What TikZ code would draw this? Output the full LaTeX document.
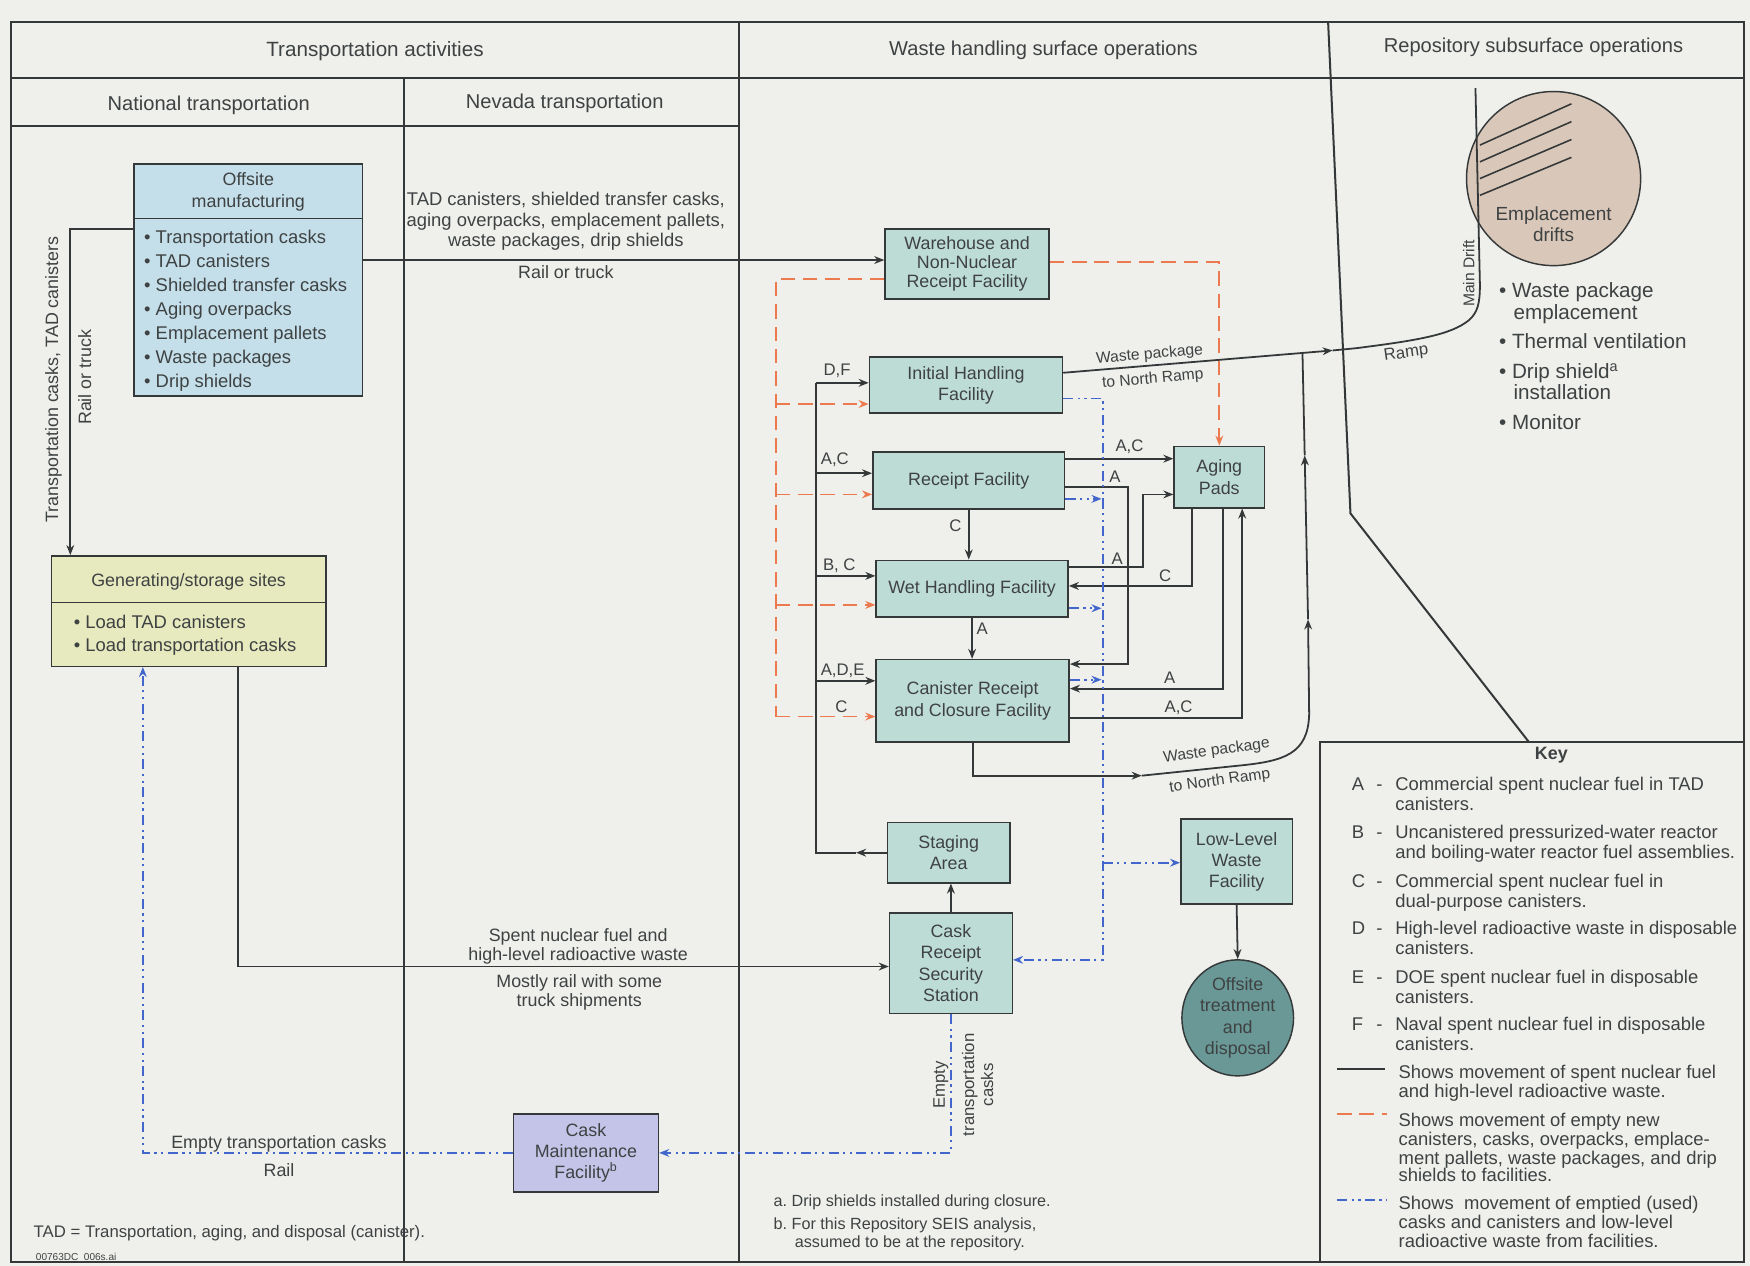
\documentclass[tikz,border=0pt]{standalone}
\usepackage{fontspec}
\setmainfont{Liberation Sans}
\usetikzlibrary{arrows.meta,shapes.geometric}
\definecolor{lnc}{RGB}{52,56,56}
\definecolor{txc}{RGB}{62,66,66}
\definecolor{bgc}{RGB}{239,240,236}
\definecolor{facc}{RGB}{190,220,214}
\definecolor{offc}{RGB}{196,223,234}
\definecolor{genc}{RGB}{231,233,190}
\definecolor{cmfc}{RGB}{196,196,232}
\definecolor{otdc}{RGB}{106,152,150}
\definecolor{empc}{RGB}{217,199,185}
\definecolor{orc}{RGB}{236,122,78}
\definecolor{blc}{RGB}{66,102,204}
\newcommand\fsz[2]{\fontsize{#1}{#2}\selectfont}
\begin{document}
\begin{tikzpicture}[x=1pt,y=-1pt,
  atip/.style={-{Stealth[length=9pt,width=7pt]}},
  lnst/.style={draw=lnc,line width=1.6pt},
  arr/.style={lnst,atip},
  orng/.style={draw=orc,line width=1.6pt,dash pattern=on 13pt off 7pt},
  oarr/.style={orng,atip},
  blu/.style={draw=blc,line width=1.5pt,dash pattern=on 9pt off 4pt on 2pt off 4pt on 2pt off 4pt},
  barr/.style={blu,atip},
  fac/.style={draw=lnc,line width=1.3pt,fill=facc,align=center,text=txc,font=\fsz{16}{19},inner sep=0pt},
  lbl/.style={text=txc,font=\fsz{15}{17},inner sep=0pt},
  txt/.style={text=txc,font=\fsz{16}{18.5},inner sep=0pt},
  frm/.style={draw=lnc,line width=1.8pt},
]
\fill[bgc] (0,0) rectangle (1568,1134);
\useasboundingbox (0,0) rectangle (1568,1134);

% frame
\draw[frm] (10,20) rectangle (1563,1131);
\draw[frm] (10,70) -- (1563,70);
\draw[frm] (10,113) -- (662,113);
\draw[frm] (362,70) -- (362,1131);
\draw[frm] (662,20) -- (662,1131);
\draw[frm] (1190,20) -- (1210,460) -- (1370,665);
\draw[frm] (1183,1131) -- (1183,665) -- (1563,665);

% headers
\node[txt,font=\fsz{18.5}{20}] (h1) at (336,46) {Transportation activities};
\node[txt,font=\fsz{18}{20}] (h2) at (935,45) {Waste handling surface operations};
\node[txt,font=\fsz{18}{20}] (h3) at (1374,42) {Repository subsurface operations};
\node[txt,font=\fsz{18}{20}] (h4) at (187,94) {National transportation};
\node[txt,font=\fsz{18}{20}] (h5) at (506,93) {Nevada transportation};

% offsite manufacturing
\node[draw=lnc,line width=1.3pt,fill=offc,minimum width=205,minimum height=208,inner sep=0pt] (off) at (222.5,251) {};
\draw[lnc,line width=1.3pt] (off.west |- 0,196) -- (off.east |- 0,196);
\node[txt,align=center,font=\fsz{16}{20}] (offt) at (222.5,172) {Offsite\\manufacturing};
\foreach \t [count=\i] in {Transportation casks,TAD canisters,Shielded transfer casks,Aging overpacks,Emplacement pallets,Waste packages,Drip shields}
  \node[txt,anchor=base west,font=\fsz{16.5}{18}] (oi\i) at (129,{218.5+(\i-1)*21.5}) {• \t};

% generating sites
\node[draw=lnc,line width=1.3pt,fill=genc,minimum width=246,minimum height=99,inner sep=0pt] (gen) at (169,547.5) {};
\draw[lnc,line width=1.3pt] (gen.west |- 0,540) -- (gen.east |- 0,540);
\node[txt] (gent) at (169,521) {Generating/storage sites};
\node[txt,anchor=base west,font=\fsz{16.5}{18}] (gi1) at (66,563) {• Load TAD canisters};
\node[txt,anchor=base west,font=\fsz{16.5}{18}] (gi2) at (66,584) {• Load transportation casks};

% left vertical labels
\node[txt,rotate=90] (vl1) at (48,340) {Transportation casks, TAD canisters};
\node[txt,rotate=90] (vl2) at (76,338) {Rail or truck};

% Nevada texts
\node[txt,align=center,font=\fsz{16.5}{18.5}] (nv1) at (507,198.5) {TAD canisters, shielded transfer casks,\\aging overpacks, emplacement pallets,\\waste packages, drip shields};
\node[txt] (nv2) at (507,244) {Rail or truck};
\node[txt,align=center,font=\fsz{16}{16.5}] (sn1) at (518,848) {Spent nuclear fuel and\\high-level radioactive waste};
\node[txt,align=center,font=\fsz{16}{17}] (sn2) at (519,889.5) {Mostly rail with some\\truck shipments};
\node[txt] (et1) at (250,1025) {Empty transportation casks};
\node[txt] (et2) at (250,1048) {Rail};

% facilities
\node[fac,font=\fsz{16}{17},minimum width=147,minimum height=63] (wh) at (866.5,236.5) {Warehouse and\\Non-Nuclear\\Receipt Facility};
\node[fac,minimum width=173,minimum height=50] (ihf) at (865.5,345) {Initial Handling\\Facility};
\node[fac,minimum width=172,minimum height=51] (rf) at (868,430.5) {Receipt Facility};
\node[fac,minimum width=172,minimum height=51] (whf) at (871,527.5) {Wet Handling Facility};
\node[fac,minimum width=173,minimum height=74] (crcf) at (871.5,628) {Canister Receipt\\and Closure Facility};
\node[fac,minimum width=81,minimum height=55] (ap) at (1092.5,427.5) {Aging\\Pads};
\node[fac,minimum width=110,minimum height=54] (stg) at (850,764) {Staging\\Area};
\node[fac,minimum width=110,minimum height=90] (crs) at (852,863) {Cask\\Receipt\\Security\\Station};
\node[fac,minimum width=100,minimum height=76] (llw) at (1108,772) {Low-Level\\Waste\\Facility};
\node[fac,ellipse,fill=otdc,minimum width=100,minimum height=104] (otd) at (1109,912) {Offsite\\treatment\\and\\disposal};
\node[fac,fill=cmfc,minimum width=130,minimum height=70] (cmf) at (525,1033) {Cask\\Maintenance\\Facility\textsuperscript{b}};

% emplacement drifts
\node[draw=lnc,line width=1.3pt,fill=empc,circle,minimum size=156,inner sep=0pt] (emp) at (1392,160) {};
\node[txt,align=center,font=\fsz{17}{19}] (empt) at (1392,201) {Emplacement\\drifts};
\draw[lnst,line width=1.4pt] (1326,130) -- (1408,93);
\draw[lnst,line width=1.4pt] (1326,145) -- (1408,109);
\draw[lnst,line width=1.4pt] (1326,160) -- (1408,125);
\draw[lnst,line width=1.4pt] (1326,175) -- (1408,141);
\coordinate (rampA) at (1194,314);
\draw[arr] (ihf.east |- 0,334) -- (rampA);
\draw[lnst] (rampA) -- (1215,312) .. controls (1270,305) and (1300,300) .. (1316,287) .. controls (1324,280) and (1326,272) .. (1326,255) -- (1322,79);
\node[txt,rotate=90,font=\fsz{14}{16}] (md) at (1316,245) {Main Drift};
\node[txt,rotate=8,font=\fsz{15}{17}] (rp) at (1260,317) {Ramp};
\node[txt,rotate=5,font=\fsz{14}{16}] (wp1) at (1030,318) {Waste package};
\node[txt,rotate=5,font=\fsz{14}{16}] (wp2) at (1033,340) {to North Ramp};

% right bullets
\node[txt,anchor=base west,font=\fsz{18.5}{19}] (rb1) at (1343,267) {• Waste package};
\node[txt,anchor=base west,font=\fsz{18.5}{19}] (rb2) at (1356,286) {emplacement};
\node[txt,anchor=base west,font=\fsz{18.5}{19}] (rb3) at (1343,312) {• Thermal ventilation};
\node[txt,anchor=base west,font=\fsz{18.5}{19}] (rb4) at (1343,339) {• Drip shield\textsuperscript{a}};
\node[txt,anchor=base west,font=\fsz{18.5}{19}] (rb5) at (1356,358) {installation};
\node[txt,anchor=base west,font=\fsz{18.5}{19}] (rb6) at (1343,385) {• Monitor};

% transport connectors
\draw[arr] (off.west |- 0,205) -| (gen.north -| 63,0);
\draw[arr] (off.east |- 0,233) -- (wh.west |- 0,233);
\draw[arr] (gen.south -| 213,0) |- (crs.west |- 0,866);
\draw[arr] (crs.north) -- (stg.south -| crs.north);

% left solid bus
\coordinate (bA) at (767,764);
\draw[arr] (stg.west) -- (bA);
\draw[lnst] (bA) -| (731,343);
\draw[arr] (731,343) -- (ihf.west |- 0,343);
\draw[arr] (731,424) -- (rf.west |- 0,424);
\draw[arr] (731,516) -- (whf.west |- 0,516);
\draw[arr] (731,610) -- (crcf.west |- 0,610);
\node[lbl] (lDF) at (750,332) {D,F};
\node[lbl] (lAC1) at (748,412) {A,C};
\node[lbl] (lBC) at (752,507) {B, C};
\node[lbl] (lADE) at (755,601) {A,D,E};
\node[lbl] (lC1) at (754,633) {C};

% orange
\draw[orng] (wh.west |- 0,250) -| (695,642);
\draw[oarr] (695,362) -- (ihf.west |- 0,362);
\draw[oarr] (695,443) -- (rf.west |- 0,443);
\draw[oarr] (695,542) -- (whf.west |- 0,542);
\draw[oarr] (695,642) -- (crcf.west |- 0,642);
\draw[oarr] (wh.east |- 0,235) -| (ap.north);

% vertical between facilities
\draw[arr] (rf.south) -- (rf.south |- whf.north);
\node[lbl] (lC2) at (856,471) {C};
\draw[arr] (whf.south) -- (whf.south |- crcf.north);
\node[lbl] (lA1) at (880,563) {A};

% right solid connectors
\draw[arr] (rf.east |- 0,411) -- (ap.west |- 0,411);
\node[lbl] (lAC2) at (1012,400) {A,C};
\draw[arr] (rf.east |- 0,436) -| (1011,595) -- (crcf.east |- 0,595);
\node[lbl] (lA2) at (999,427) {A};
\draw[arr] (whf.east |- 0,508) -| (1024,443) -- (ap.west |- 0,443);
\node[lbl] (lA3) at (1001,501) {A};
\draw[arr] (ap.south -| 1068,0) |- (whf.east |- 0,525);
\node[lbl] (lC3) at (1044,516) {C};
\draw[arr] (ap.south -| 1096,0) |- (crcf.east |- 0,617);
\node[lbl] (lA4) at (1048,607) {A};
\draw[arr] (crcf.east |- 0,643) -| (ap.south -| 1113,0);
\node[lbl] (lAC3) at (1056,634) {A,C};

% waste package lower route
\coordinate (cpA) at (1023,695);
\coordinate (cpB) at (1172,555);
\coordinate (cpC) at (1169,408);
\coordinate (cpD) at (1167,316);
\draw[arr] (crcf.south) |- (cpA);
\draw[arr] (cpA) -- (1110,686) .. controls (1150,682) and (1172,676) .. (1173,640) -- (cpB);
\draw[arr] (cpB) -- (cpC);
\draw[lnst] (cpC) -- (cpD);
\node[txt,rotate=8,font=\fsz{14}{16}] (wp3) at (1090,673) {Waste package};
\node[txt,rotate=8,font=\fsz{14}{16}] (wp4) at (1093,700) {to North Ramp};

% blue
\draw[barr] (ihf.east |- 0,357) -| (988,860) -- (crs.east |- 0,860);
\draw[barr] (988,773) -- (llw.west |- 0,773);
\draw[barr] (rf.east |- 0,447) -- (987,447);
\draw[barr] (whf.east |- 0,545) -- (987,545);
\draw[barr] (crcf.east |- 0,609) -- (987,609);
\draw[barr] (crs.south) |- (cmf.east |- 0,1033);
\draw[barr] (cmf.west |- 0,1033) -| (gen.south -| 128,0);
\node[lbl] (em1) at (843,972) [rotate=90] {Empty};
\node[lbl,align=center,rotate=90,font=\fsz{15}{17}] (em2) at (876,972) {transportation\\casks};

\draw[arr] (llw.south) -- (otd.north);

% key
\node[txt,font=\bfseries\fsz{16}{18}] (key) at (1390,677) {Key};
\foreach \L/\a/\b/\y in {A/Commercial spent nuclear fuel in TAD/canisters./708,
  B/Uncanistered pressurized-water reactor/and boiling-water reactor fuel assemblies./751,
  C/Commercial spent nuclear fuel in/dual-purpose canisters./795,
  D/High-level radioactive waste in disposable/canisters./837,
  E/DOE spent nuclear fuel in disposable/canisters./881,
  F/Naval spent nuclear fuel in disposable/canisters./923}{
  \node[txt,anchor=base west,font=\fsz{16.5}{18}] (kl\L) at (1211,\y) {\L};
  \node[txt,anchor=base west,font=\fsz{16.5}{18}] (kd\L) at (1233,\y) {-};
  \node[txt,anchor=base west,font=\fsz{16.5}{18}] (ka\L) at (1250,\y) {\a};
  \node[txt,anchor=base west,font=\fsz{16.5}{18}] (kb\L) at (1250,{\y+18}) {\b};
}
\coordinate (ks1) at (1198,958); \coordinate (ks2) at (1241,958);
\draw[lnst] (ks1) -- (ks2);
\node[txt,anchor=base west,font=\fsz{16.5}{18}] (kt1) at (1253,966) {Shows movement of spent nuclear fuel};
\node[txt,anchor=base west,font=\fsz{16.5}{18}] (kt2) at (1253,983) {and high-level radioactive waste.};
\coordinate (ko1) at (1198,998); \coordinate (ko2) at (1243,998);
\draw[orng] (ko1) -- (ko2);
\node[txt,anchor=base west,font=\fsz{16.5}{18}] (kt3) at (1253,1009) {Shows movement of empty new};
\node[txt,anchor=base west,font=\fsz{16.5}{18}] (kt4) at (1253,1026) {canisters, casks, overpacks, emplace-};
\node[txt,anchor=base west,font=\fsz{16.5}{18}] (kt5) at (1253,1043) {ment pallets, waste packages, and drip};
\node[txt,anchor=base west,font=\fsz{16.5}{18}] (kt6) at (1253,1059) {shields to facilities.};
\coordinate (kb1) at (1198,1075); \coordinate (kb2) at (1243,1075);
\draw[blu] (kb1) -- (kb2);
\node[txt,anchor=base west,font=\fsz{16.5}{18}] (kt7) at (1253,1084) {Shows\ \ movement of emptied (used)};
\node[txt,anchor=base west,font=\fsz{16.5}{18}] (kt8) at (1253,1101) {casks and canisters and low-level};
\node[txt,anchor=base west,font=\fsz{16.5}{18}] (kt9) at (1253,1118) {radioactive waste from facilities.};

% footnotes
\node[txt,anchor=base west,font=\fsz{14.5}{16}] (fa) at (693,1081) {a.\ Drip shields installed during closure.};
\node[txt,anchor=base west,font=\fsz{14.5}{16}] (fb1) at (693,1102) {b.\ For this Repository SEIS analysis,};
\node[txt,anchor=base west,font=\fsz{14.5}{16}] (fb2) at (712,1118) {assumed to be at the repository.};
\node[txt,anchor=base west,font=\fsz{15}{17}] (tad) at (30,1109) {TAD = Transportation, aging, and disposal (canister).};
\node[txt,anchor=base west,font=\fsz{9}{10}] (fid) at (32,1129) {00763DC\_006s.ai};
\end{tikzpicture}
\end{document}
